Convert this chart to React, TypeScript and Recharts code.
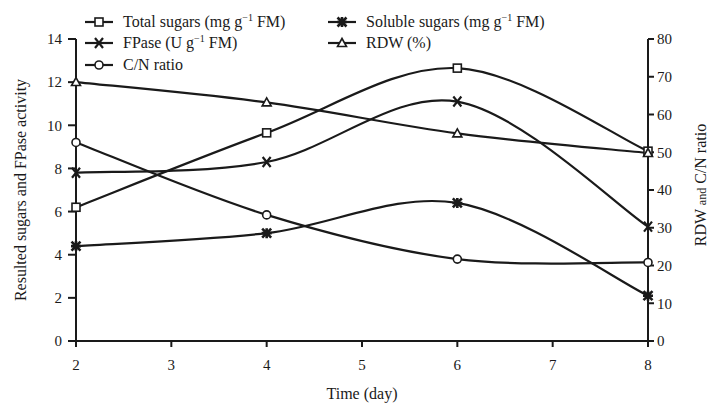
import { LineChart, Line, XAxis, YAxis } from "recharts";

document.body.style.margin = "0";

const days = [2, 4, 6, 8];
const dayTicks = [2, 3, 4, 5, 6, 7, 8];
const leftTicks = [0, 2, 4, 6, 8, 10, 12, 14];
const rightTicks = [0, 10, 20, 30, 40, 50, 60, 70, 80];

const totalSugars = [6.2, 9.65, 12.65, 8.8];
const solubleSugars = [4.4, 5.0, 6.4, 2.1];
const fpase = [7.8, 8.3, 11.1, 5.3];
const rdw = [68.6, 63.2, 55.0, 49.8];
const cnRatio = [52.6, 33.4, 21.7, 20.8];

const chartData = days.map((d, i) => ({
  day: d,
  total: totalSugars[i],
  soluble: solubleSugars[i],
  fpase: fpase[i],
  rdw: rdw[i],
  cn: cnRatio[i],
}));

const FONT = "'Liberation Serif', 'DejaVu Serif', serif";
const INK = "#1a1a1a";

// Excel-like smoothed line (bezier through points, tangent = (p[i+1]-p[i-1])/6)
function smoothCurve(context: any) {
  let pts: number[][] = [];
  return {
    areaStart() {},
    areaEnd() {},
    lineStart() {
      pts = [];
    },
    point(x: number, y: number) {
      pts.push([+x, +y]);
    },
    lineEnd() {
      if (!pts.length) return;
      context.moveTo(pts[0][0], pts[0][1]);
      for (let i = 0; i < pts.length - 1; i++) {
        const p0 = pts[i - 1] || pts[i];
        const p1 = pts[i];
        const p2 = pts[i + 1];
        const p3 = pts[i + 2] || p2;
        context.bezierCurveTo(
          p1[0] + (p2[0] - p0[0]) / 6,
          p1[1] + (p2[1] - p0[1]) / 6,
          p2[0] - (p3[0] - p1[0]) / 6,
          p2[1] - (p3[1] - p1[1]) / 6,
          p2[0],
          p2[1]
        );
      }
    },
  };
}

type Shape = "square" | "star" | "cross" | "triangle" | "circle";

function Marker({ shape, cx, cy }: { shape: Shape; cx: number; cy: number }) {
  const s = { stroke: INK, strokeWidth: 1.6, fill: "#fff" };
  if (shape === "square")
    return <rect x={cx - 4} y={cy - 4} width={8} height={8} {...s} />;
  if (shape === "circle") return <circle cx={cx} cy={cy} r={4} {...s} />;
  if (shape === "triangle")
    return (
      <path
        d={`M${cx},${cy - 4.5} L${cx + 4.5},${cy + 3.5} L${cx - 4.5},${cy + 3.5} Z`}
        {...s}
      />
    );
  if (shape === "cross")
    return (
      <path
        d={`M${cx - 4},${cy - 5} L${cx + 4},${cy + 5} M${cx + 4},${cy - 5} L${cx - 4},${cy + 5}`}
        stroke={INK}
        strokeWidth={2.2}
        fill="none"
      />
    );
  return (
    <path
      d={`M${cx - 4.5},${cy - 4.5} L${cx + 4.5},${cy + 4.5} M${cx + 4.5},${cy - 4.5} L${cx - 4.5},${cy + 4.5} M${cx},${cy - 5} L${cx},${cy + 5} M${cx - 5},${cy} L${cx + 5},${cy}`}
      stroke={INK}
      strokeWidth={2.6}
      fill="none"
    />
  );
}

const dot = (shape: Shape) => (p: any) =>
  <Marker key={`${shape}-${p.index}`} shape={shape} cx={p.cx} cy={p.cy} />;

const Sup = () => (
  <tspan dy={-6} fontSize={10}>
    {"\u22121"}
  </tspan>
);

const legendItems: { shape: Shape; x: number; y: number; label: any }[] = [
  {
    shape: "square",
    x: 85,
    y: 22,
    label: (
      <>
        Total sugars (mg g<Sup />
        <tspan dy={6}> FM)</tspan>
      </>
    ),
  },
  {
    shape: "star",
    x: 328,
    y: 22,
    label: (
      <>
        Soluble sugars (mg g<Sup />
        <tspan dy={6}> FM)</tspan>
      </>
    ),
  },
  {
    shape: "cross",
    x: 85,
    y: 43,
    label: (
      <>
        FPase (U g<Sup />
        <tspan dy={6}> FM)</tspan>
      </>
    ),
  },
  { shape: "triangle", x: 328, y: 43, label: "RDW (%)" },
  { shape: "circle", x: 85, y: 65, label: "C/N ratio" },
];

function LegendBox() {
  return (
    <svg
      width={712}
      height={80}
      style={{ position: "absolute", left: 0, top: 0, pointerEvents: "none" }}
    >
      {legendItems.map((it, i) => (
        <g key={i}>
          <line x1={it.x} x2={it.x + 28} y1={it.y} y2={it.y} stroke={INK} strokeWidth={2.2} />
          <Marker shape={it.shape} cx={it.x + 14} cy={it.y} />
          <text
            x={it.x + 38}
            y={it.y + 5}
            fontFamily={FONT}
            fontSize={16}
            fill={INK}
          >
            {it.label}
          </text>
        </g>
      ))}
    </svg>
  );
}

const tickStyle = { fill: INK, fontSize: 15, fontFamily: FONT };

export default function App() {
  return (
    <div
      style={{
        position: "relative",
        width: 712,
        height: 406,
        background: "#fff",
        fontFamily: FONT,
      }}
    >
      <LineChart
        width={712}
        height={406}
        data={chartData}
        margin={{ top: 39, right: 24, bottom: 25, left: 36 }}
      >
        <XAxis
          dataKey="day"
          type="number"
          domain={[2, 8]}
          ticks={dayTicks}
          stroke={INK}
          strokeWidth={2}
          tickSize={6}
          tick={tickStyle}
          tickMargin={12}
          height={40}
          label={{
            value: "Time (day)",
            position: "insideBottom",
            offset: -18,
            style: { fill: INK, fontSize: 16, fontFamily: FONT },
          }}
        />
        <YAxis
          yAxisId="left"
          domain={[0, 14]}
          ticks={leftTicks}
          stroke={INK}
          strokeWidth={2}
          tickSize={8}
          tickMargin={6}
          tick={tickStyle}
          width={40}
          label={{
            value: "Resulted sugars and FPase activity",
            angle: -90,
            position: "insideLeft",
            offset: -16,
            style: {
              textAnchor: "middle",
              fill: INK,
              fontSize: 16,
              fontFamily: FONT,
            },
          }}
        />
        <YAxis
          yAxisId="right"
          orientation="right"
          domain={[0, 80]}
          ticks={rightTicks}
          stroke={INK}
          strokeWidth={2}
          tickSize={6}
          tickMargin={3}
          tick={{ ...tickStyle, textAnchor: "start" }}
          width={40}
          label={(props: any) => {
            const vb = props.viewBox;
            const x = vb.x + 58;
            const y = vb.y + vb.height / 2 - 5;
            return (
              <text
                x={x}
                y={y}
                transform={`rotate(-90 ${x} ${y})`}
                textAnchor="middle"
                fontFamily={FONT}
                fontSize={16}
                fill={INK}
              >
                RDW <tspan fontSize={12}>and</tspan> C/N ratio
              </text>
            );
          }}
        />
        <Line
          yAxisId="left"
          dataKey="total"
          type={smoothCurve as any}
          stroke={INK}
          strokeWidth={2.2}
          dot={dot("square")}
          isAnimationActive={false}
        />
        <Line
          yAxisId="left"
          dataKey="soluble"
          type={smoothCurve as any}
          stroke={INK}
          strokeWidth={2.2}
          dot={dot("star")}
          isAnimationActive={false}
        />
        <Line
          yAxisId="left"
          dataKey="fpase"
          type={smoothCurve as any}
          stroke={INK}
          strokeWidth={2.2}
          dot={dot("cross")}
          isAnimationActive={false}
        />
        <Line
          yAxisId="right"
          dataKey="rdw"
          type={smoothCurve as any}
          stroke={INK}
          strokeWidth={2.2}
          dot={dot("triangle")}
          isAnimationActive={false}
        />
        <Line
          yAxisId="right"
          dataKey="cn"
          type={smoothCurve as any}
          stroke={INK}
          strokeWidth={2.2}
          dot={dot("circle")}
          isAnimationActive={false}
        />
      </LineChart>
      <LegendBox />
    </div>
  );
}
